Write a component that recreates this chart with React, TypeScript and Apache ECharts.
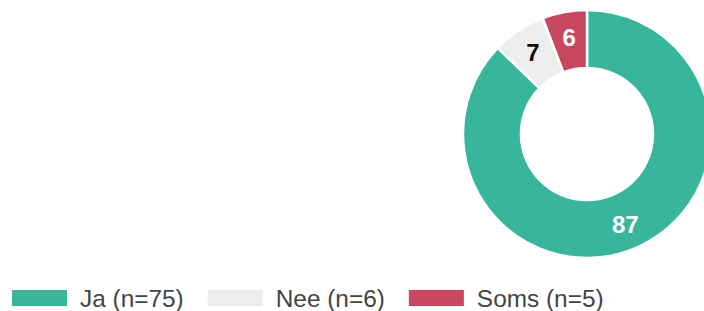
import React, { useEffect, useRef } from "react";
import * as echarts from "echarts";

const categories = ["Ja", "Nee", "Soms"];
const counts = [75, 6, 5];
const colors = ["#38b69c", "#ededed", "#c8475e"];
const labelColors = ["#ffffff", "#111111", "#ffffff"];

export default function App() {
  const ref = useRef<HTMLDivElement>(null);
  useEffect(() => {
    if (!ref.current) return;
    const chart = echarts.init(ref.current, undefined, { renderer: "svg" });
    const names = categories.map((c, i) => `${c} (n=${counts[i]})`);
    chart.setOption({
      animation: false,
      color: colors,
      legend: {
        left: 10,
        top: 286,
        padding: 0,
        itemWidth: 57,
        itemHeight: 18,
        itemGap: 22,
        icon: "rect",
        data: names,
        textStyle: {
          fontSize: 24.4,
          color: "#444",
          fontFamily: "Arial, 'Liberation Sans', sans-serif",
          padding: [0, 0, 0, 7],
          lineHeight: 22,
        },
      },
      series: [
        {
          type: "pie",
          center: [587, 134],
          radius: [66, 124],
          startAngle: 90,
          clockwise: true,
          avoidLabelOverlap: false,
          itemStyle: { borderColor: "#fff", borderWidth: 2.5 },
          label: {
            show: true,
            position: "inside",
            fontSize: 24,
            fontWeight: "bold",
            fontFamily: "Arial, 'Liberation Sans', sans-serif",
            formatter: (p: any) => String(Math.round(p.percent)),
          },
          labelLine: { show: false },
          emphasis: { disabled: true },
          data: names.map((n, i) => ({
            name: n,
            value: counts[i],
            label: { color: labelColors[i] },
          })),
        },
      ],
    });
    return () => chart.dispose();
  }, []);
  return (
    <div
      ref={ref}
      style={{ position: "absolute", left: 0, top: 0, width: 704, height: 311 }}
    />
  );
}
